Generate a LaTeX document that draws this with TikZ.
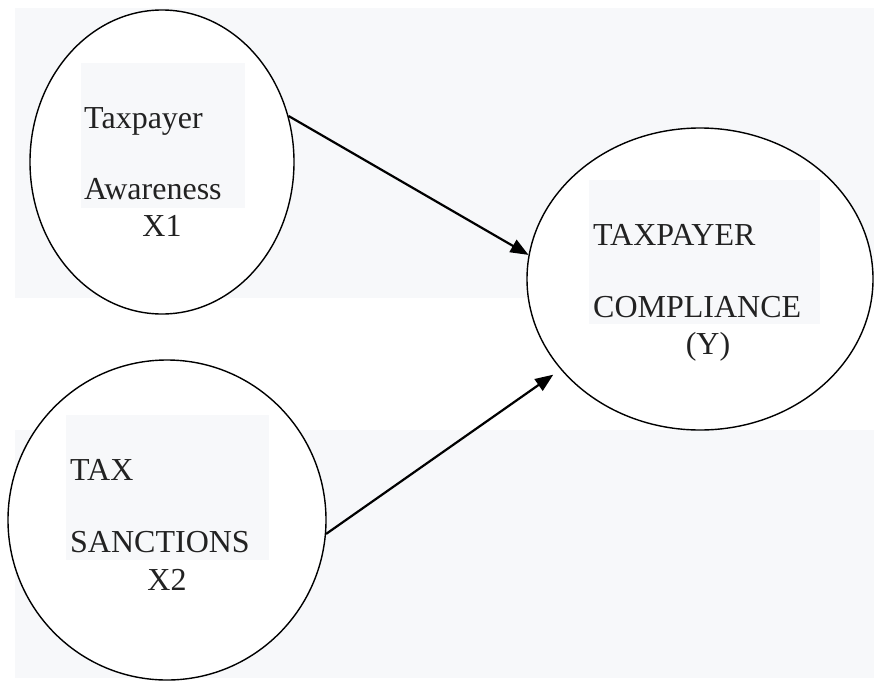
\documentclass[tikz,border=0pt]{standalone}
\usepackage{fontspec}
\setmainfont{Liberation Serif}
\usepackage{tikz}
\usetikzlibrary{arrows.meta,shapes.geometric}

\definecolor{panelgray}{HTML}{F7F8FA}
\definecolor{inkgray}{HTML}{222222}

\begin{document}
\begin{tikzpicture}[x=1pt,y=-1pt,>={Triangle[length=18pt,width=14pt]},
    var/.style={ellipse,draw,line width=1.4pt,fill=white,inner sep=0pt},
    txtbox/.style={fill=panelgray,inner sep=0pt,anchor=north west},
    lbl/.style={inner sep=0pt,anchor=base west,text=inkgray,font=\fontsize{32}{37}\selectfont},
    tag/.style={lbl,anchor=base}]
            \useasboundingbox (0,0) rectangle (874,680);
            \fill[panelgray] (15,8) rectangle (874,298);
            \fill[panelgray] (15,430) rectangle (874,678);

            \node[var, minimum width=264, minimum height=304] (aware) at (162,162) {};
            \node[var, minimum width=346, minimum height=302] (comply) at (700,279) {};
            \node[var, minimum width=318, minimum height=320] (sanct) at (167,520) {};

            \node[txtbox, minimum width=164, minimum height=145] (awbox) at (81,63) {};
            \node[txtbox, minimum width=231, minimum height=144] (cobox) at (589,180) {};
            \node[txtbox, minimum width=203, minimum height=145] (sabox) at (66,415) {};

            \node[lbl] (aw1) at (84,128) {Taxpayer};
            \node[lbl] (aw2) at (84,199) {Awareness};
            \node[tag] (awx) at (162,236) {X1};
            \node[lbl] (co1) at (593,245) {TAXPAYER};
            \node[lbl] (co2) at (593,317) {COMPLIANCE};
            \node[tag] (coy) at (708,354) {(Y)};
            \node[lbl] (sa1) at (70,480) {TAX};
            \node[lbl] (sa2) at (70,552) {SANCTIONS};
            \node[tag] (sax) at (167,590) {X2};

            \path[->, line width=2.2pt]
                (aware.20) edge (comply.172)
                (sanct.-5) edge [shorten >=9pt] (comply.213)
                   ;
        \end{tikzpicture}
\end{document}
